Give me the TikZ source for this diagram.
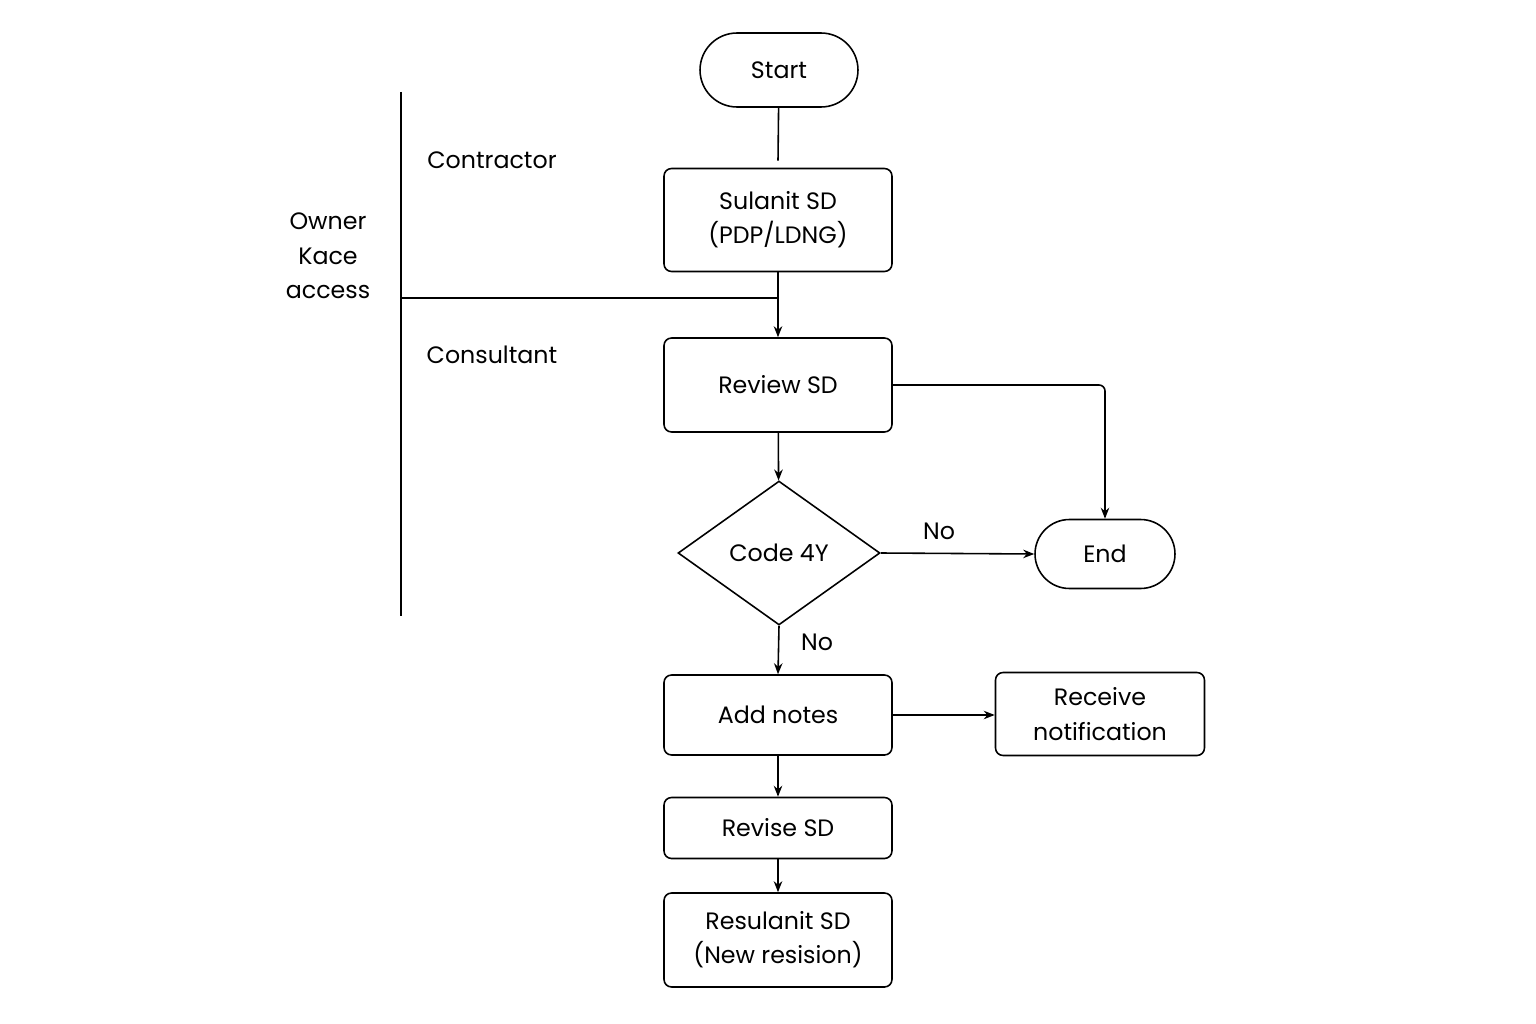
\documentclass[tikz,border=0pt]{standalone}
\usepackage{fontspec}
\setmainfont{Poppins}
\usetikzlibrary{shapes.geometric,shapes.misc,arrows.meta}

\begin{document}
\begin{tikzpicture}[x=0.02cm,y=-0.02cm,
        every node/.style={font=\fontsize{13.5}{19.5}\selectfont},
        box/.style={draw,rounded corners=0.15cm,line width=0.9pt,align=center,minimum width=4.56cm,inner sep=0pt},
        term/.style={draw,rounded rectangle,line width=0.9pt,inner sep=0pt},
        decision/.style={draw,diamond,line width=0.9pt,minimum width=4.04cm,minimum height=2.88cm,inner sep=0pt},
        flow/.style={line width=0.9pt,-{Stealth[length=0.22cm,width=0.17cm]}},
        lane/.style={line width=0.9pt}]
        \useasboundingbox (0,0) rectangle (1536,1024);
        % terminals
        \node [term,minimum width=3.16cm,minimum height=1.48cm] (start) at (779,70) {Start};
        \node [term,minimum width=2.8cm,minimum height=1.38cm] (end) at (1105,554) {End};
        % process boxes
        \node [box,minimum height=2.06cm] (submit) at (778,220) {Sulanit SD\\(PDP/LDNG)};
        \node [box,minimum height=1.88cm] (review) at (778,385) {Review SD};
        \node [decision] (code) at (779,553) {Code 4Y};
        \node [box,minimum height=1.6cm] (notes) at (778,715) {Add notes};
        \node [box,minimum width=4.18cm,minimum height=1.66cm] (notify) at (1100,714) {Receive\\notification};
        \node [box,minimum height=1.22cm] (revise) at (778,828) {Revise SD};
        \node [box,minimum height=1.88cm] (resubmit) at (778,940) {Resulanit SD\\(New resision)};
        % lanes
        \coordinate (laneTop) at (401,92);
        \coordinate (laneBot) at (401,616);
        \coordinate (laneMid) at (401,298);
        \draw [lane] (laneTop) -- (laneBot);
        \draw [lane] (laneMid) -- (laneMid -| submit.south);
        \node (contractor) at (492,160) {Contractor};
        \node (consultant) at (492,355) {Consultant};
        \node [align=center] (owner) at (328,256) {Owner\\Kace\\access};
        % connectors
        \draw [lane] (start) -- ([yshift=0.14cm]submit.north);
        \draw [flow] (submit) -- (review);
        \draw [flow,rounded corners=0.12cm] (review.east) -| (end.north);
        \draw [flow] (review) -- (code);
        \draw [flow] (code.east) -- node [above=4pt,pos=0.38] (no1) {No} (end.west);
        \draw [flow] (code.south) -- node [right=9pt,pos=0.35] (no2) {No} (notes.north);
        \draw [flow] (notes.east) -- (notes.east -| notify.west);
        \draw [flow] (notes) -- (revise);
        \draw [flow] (revise) -- (resubmit);
      \end{tikzpicture}
\end{document}
